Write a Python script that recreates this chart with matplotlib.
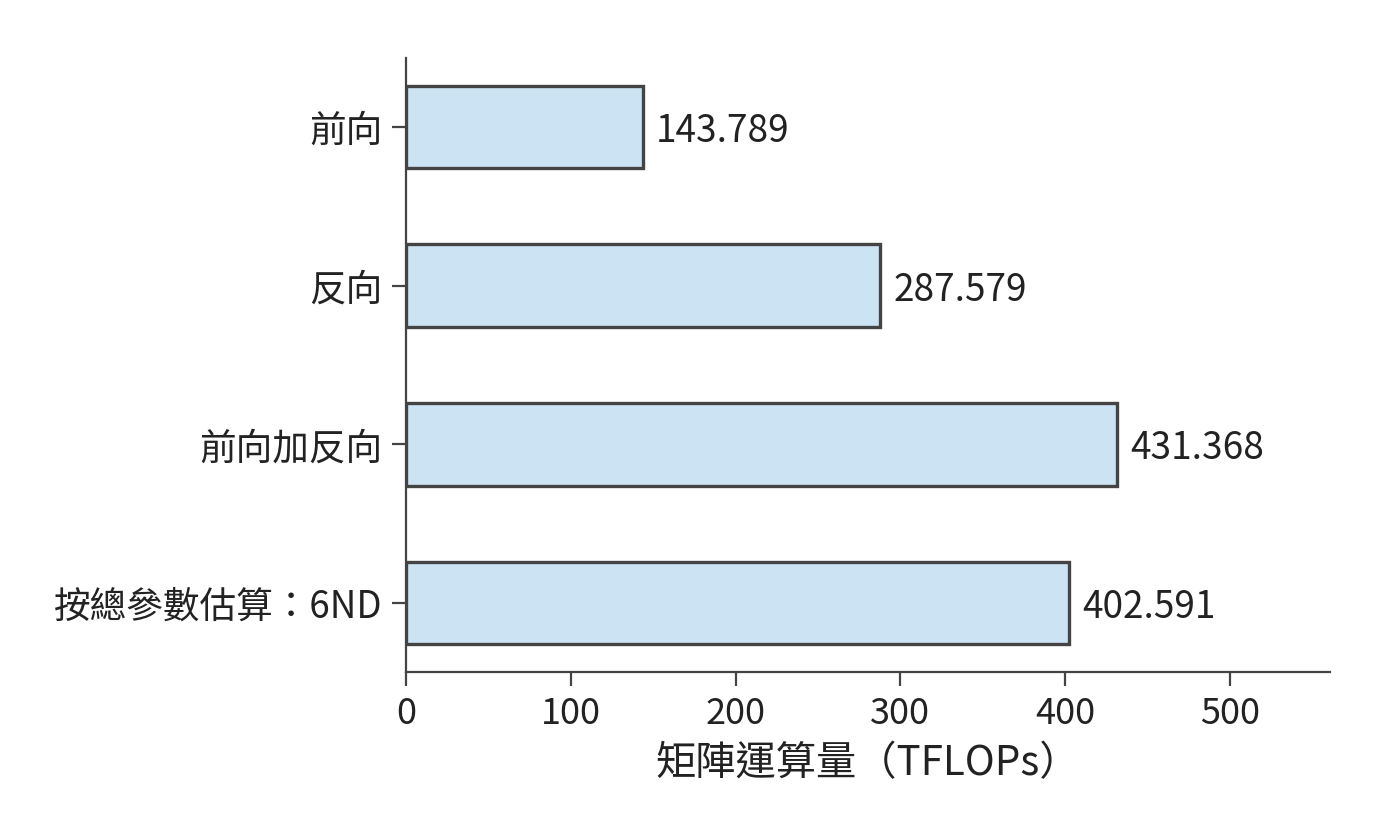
import numpy as np
import matplotlib
matplotlib.use("Agg")
import matplotlib.pyplot as plt

plt.rcParams['font.family'] = ['Noto Sans CJK TC', 'DejaVu Sans']

# data
labels = ["前向", "反向", "前向加反向", "按總參數估算：6ND"]
values = [143.789, 287.579, 431.368, 402.591]
xticks = [0, 100, 200, 300, 400, 500]

fig = plt.figure(figsize=(7, 4.2), dpi=200)
ax = fig.add_axes([0.29, 0.2, 0.66, 0.731])

y = np.arange(len(labels))
ax.barh(y, values, height=0.52, color="#cce3f3", edgecolor="#444444", linewidth=1.2)

for yi, v in zip(y, values):
    ax.text(v + 8, yi, f"{v:.3f}", va="center_baseline", ha="left", fontsize=13.3, color="#222222")

ax.set_yticks(y)
ax.set_yticklabels(labels, fontsize=13.2, color="#222222")
ax.invert_yaxis()
ax.set_xticks(xticks)
ax.set_xticklabels([str(t) for t in xticks], fontsize=13, color="#222222")
ax.set_xlim(0, max(values) * 1.3)
ax.set_xlabel("矩陣運算量（TFLOPs）", fontsize=14.5, color="#222222")

for s in ["top", "right"]:
    ax.spines[s].set_visible(False)
for s in ["left", "bottom"]:
    ax.spines[s].set_color("#444444")
    ax.spines[s].set_linewidth(0.8)
ax.tick_params(colors="#444444", width=0.8, length=5, labelcolor="#222222")

fig.savefig("out.png", dpi=200)
